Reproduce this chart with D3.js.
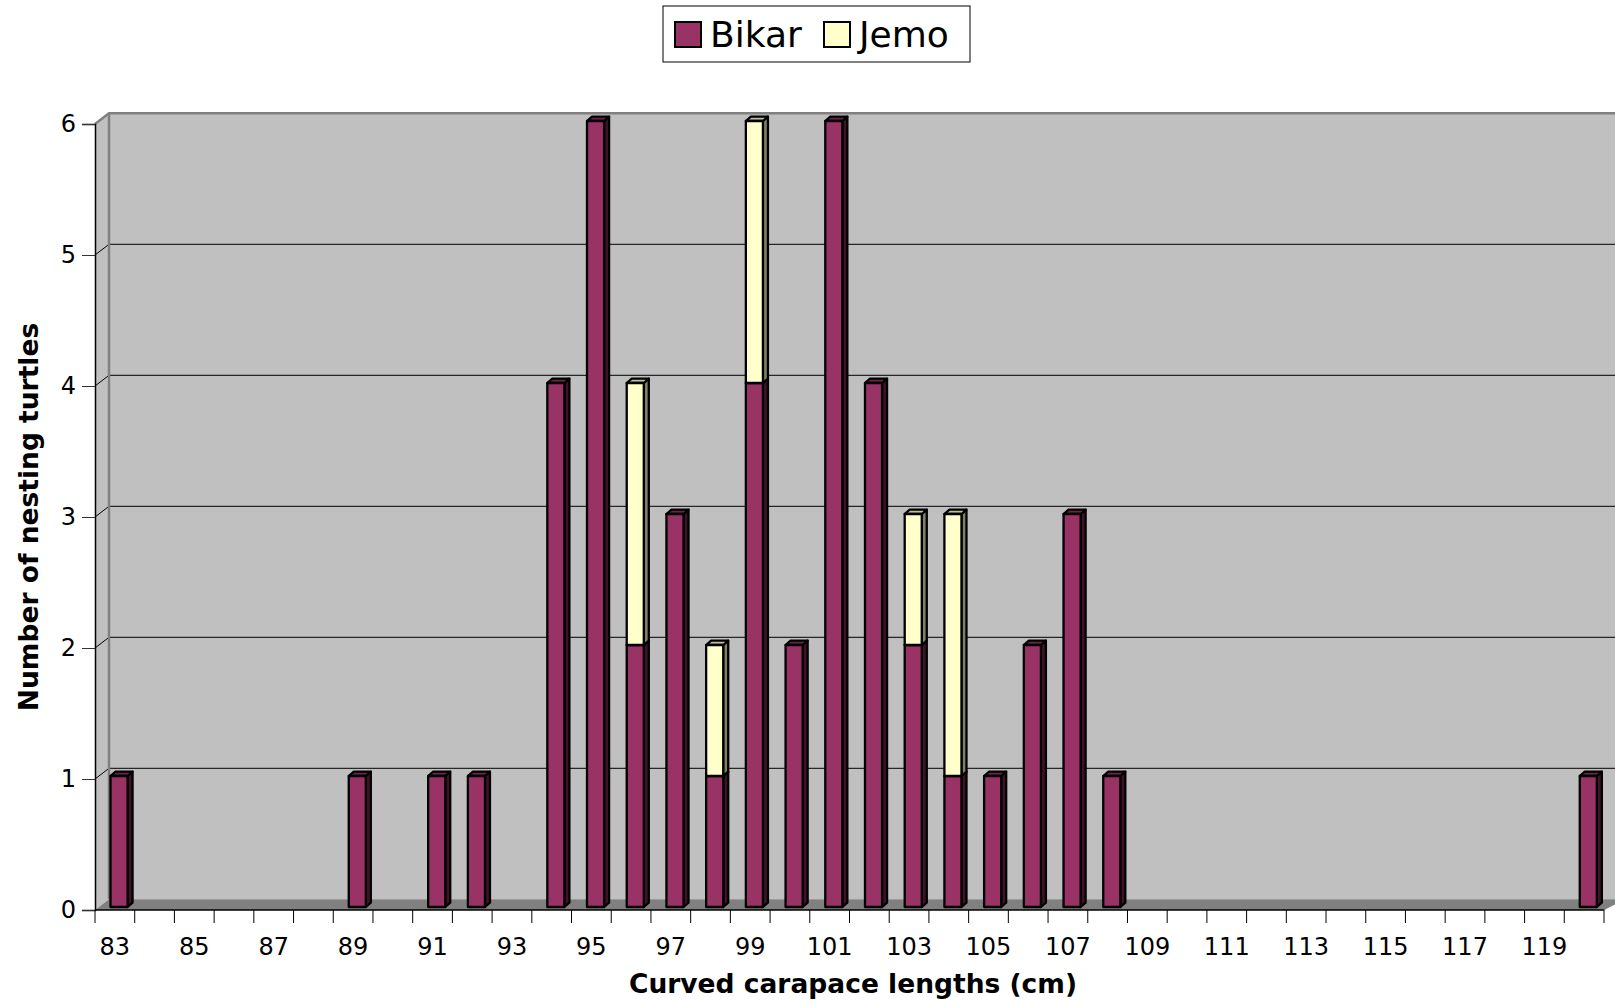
<!DOCTYPE html>
<html>
<head>
<meta charset="utf-8">
<script src="https://cdn.jsdelivr.net/npm/d3@7/dist/d3.min.js"></script>
<style>
  body { margin: 0; background: #fff; }
  svg { display: block; font-family: "DejaVu Sans", Verdana, sans-serif; }
</style>
</head>
<body>
<svg width="1615" height="1005"></svg>
<script>
        // Data
        var categories = [83,84,85,86,87,88,89,90,91,92,93,94,95,96,97,98,99,100,101,
                          102,103,104,105,106,107,108,109,110,111,112,113,114,115,116,117,118,119,120];
        var bikar = [1,0,0,0,0,0,1,0,1,1,0,4,6,2,3,1,4,2,6,
                     4,2,1,1,2,3,1,0,0,0,0,0,0,0,0,0,0,0,1];
        var jemo  = [0,0,0,0,0,0,0,0,0,0,0,0,0,2,0,1,2,0,0,
                     0,1,2,0,0,0,0,0,0,0,0,0,0,0,0,0,0,0,0];
        var xTickLabels = ["83","85","87","89","91","93","95","97","99","101","103",
                           "105","107","109","111","113","115","117","119"];
        var yTicks = [0,1,2,3,4,5,6];
        var seriesNames = ["Bikar", "Jemo"];

        // colours
        var colors = {
            Bikar: {front: "#993366", side: "#3f1229", top: "#6e2449"},
            Jemo:  {front: "#ffffcc", side: "#808066", top: "#bfbf99"}
        };

        // layout (plot edges of the front plane)
        var pL = 95, pR = 1604, pB = 910, pT = 124;
        var wallDx = 14, wallDy = -10.7;   // depth of the back wall
        var barDx = 5, barDy = -4.3;       // depth of each bar
        var barLift = 3;                   // bars stand a little behind the front edge

        var svg = d3.select("svg");

        var xScale = d3.scaleBand()
                       .domain(categories)
                       .range([pL, pR]);

        var yScale = d3.scaleLinear()
                       .domain([0, 6])
                       .range([pB, pT]);

        var bw = xScale.bandwidth();

        function poly(pts) {
            return pts.map(function(p) { return p.join(","); }).join(" ");
        }

        // side wall (left)
        svg.append("polygon")
           .attr("points", poly([[pL, pT], [pL + wallDx, pT + wallDy],
                                 [pL + wallDx, pB + wallDy], [pL, pB]]))
           .attr("fill", "#c0c0c0");

        // back wall
        svg.append("rect")
           .attr("x", pL + wallDx)
           .attr("y", pT + wallDy)
           .attr("width", 1615 - pL - wallDx + 5)
           .attr("height", pB - pT)
           .attr("fill", "#c0c0c0");

        // gridlines on side and back walls
        var grid = svg.append("g");
        grid.selectAll("polyline")
            .data(yTicks.filter(function(d) { return d > 0 && d < 6; }))
            .enter()
            .append("polyline")
            .attr("points", function(d) {
                var y = yScale(d);
                return poly([[pL, y], [pL + wallDx, y + wallDy], [1620, y + wallDy]]);
            })
            .attr("fill", "none")
            .attr("stroke", "#000")
            .attr("stroke-width", 1);

        // wall edges
        svg.append("polyline")
           .attr("points", poly([[pL, pT], [pL + wallDx, pT + wallDy], [1620, pT + wallDy]]))
           .attr("fill", "none")
           .attr("stroke", "#808080")
           .attr("stroke-width", 2.5);
        svg.append("line")
           .attr("x1", pL + wallDx).attr("x2", pL + wallDx)
           .attr("y1", pT + wallDy).attr("y2", pB + wallDy)
           .attr("stroke", "#808080")
           .attr("stroke-width", 2.5);

        // floor
        svg.append("polygon")
           .attr("points", poly([[pL, pB], [pL + wallDx, pB + wallDy],
                                 [1625, pB + wallDy], [pR, pB]]))
           .attr("fill", "#808080");
        svg.append("line")
           .attr("x1", pR).attr("y1", pB)
           .attr("x2", pR + wallDx).attr("y2", pB + wallDy)
           .attr("stroke", "#808080")
           .attr("stroke-width", 1);

        // stacked segments
        var segments = [];
        categories.forEach(function(c, i) {
            var base = 0;
            [bikar[i], jemo[i]].forEach(function(v, s) {
                if (v > 0) {
                    segments.push({cat: c, y0: base, y1: base + v, series: seriesNames[s]});
                }
                base += v;
            });
        });

        var bars = svg.append("g")
                      .selectAll("g")
                      .data(segments)
                      .enter()
                      .append("g")
                      .attr("stroke", "#000")
                      .attr("stroke-width", 2.3)
                      .attr("stroke-linejoin", "round");

        function faceX(d) { return xScale(d.cat) + bw * 0.39; }
        var fw = bw * 0.43;

        // side face
        bars.append("polygon")
            .attr("points", function(d) {
                var x1 = faceX(d) + fw;
                var yb = yScale(d.y0) - barLift, yt = yScale(d.y1) - barLift;
                return poly([[x1, yb], [x1 + barDx, yb + barDy], [x1 + barDx, yt + barDy], [x1, yt]]);
            })
            .attr("fill", function(d) { return colors[d.series].side; });

        // top face
        bars.append("polygon")
            .attr("points", function(d) {
                var x0 = faceX(d), x1 = x0 + fw;
                var yt = yScale(d.y1) - barLift;
                return poly([[x0, yt], [x0 + barDx, yt + barDy], [x1 + barDx, yt + barDy], [x1, yt]]);
            })
            .attr("fill", function(d) { return colors[d.series].top; });

        // front face
        bars.append("rect")
            .attr("x", faceX)
            .attr("y", function(d) { return yScale(d.y1) - barLift; })
            .attr("width", fw)
            .attr("height", function(d) { return yScale(d.y0) - yScale(d.y1); })
            .attr("fill", function(d) { return colors[d.series].front; });

        // Y axis
        var yAxis = d3.axisLeft(yScale)
                      .tickValues(yTicks)
                      .tickSize(13)
                      .tickPadding(6)
                      .tickFormat(d3.format("d"));
        var yAxisG = svg.append("g")
            .attr("transform", "translate(" + pL + ",0)")
            .call(yAxis);
        yAxisG.select(".domain").attr("stroke", "#000").attr("stroke-width", 1.5);
        yAxisG.selectAll(".tick line").attr("stroke", "#333");
        yAxisG.selectAll("text")
              .attr("font-size", "24px")
              .attr("font-family", "DejaVu Sans, sans-serif")
              .attr("fill", "#000");

        // X axis: ticks on every band boundary, labels on every other category
        var boundaries = categories.map(function(c) { return xScale(c); }).concat([pR]);
        svg.append("line")
           .attr("x1", pL).attr("x2", pR)
           .attr("y1", pB).attr("y2", pB)
           .attr("stroke", "#000")
           .attr("stroke-width", 1.5);
        svg.append("g")
           .selectAll("line")
           .data(boundaries)
           .enter()
           .append("line")
           .attr("x1", function(d) { return d; })
           .attr("x2", function(d) { return d; })
           .attr("y1", pB)
           .attr("y2", pB + 13)
           .attr("stroke", "#000")
           .attr("stroke-width", 1);

        svg.append("g")
           .selectAll("text")
           .data(xTickLabels)
           .enter()
           .append("text")
           .attr("x", function(d) { return xScale(+d) + bw / 2; })
           .attr("y", 955)
           .attr("text-anchor", "middle")
           .attr("font-size", "24px")
           .attr("fill", "#000")
           .text(function(d) { return d; });

        // axis titles
        svg.append("text")
           .attr("x", 853)
           .attr("y", 993)
           .attr("text-anchor", "middle")
           .attr("font-size", "26.5px")
           .attr("font-weight", "bold")
           .text("Curved carapace lengths (cm)");

        svg.append("text")
           .attr("transform", "translate(38,517) rotate(-90)")
           .attr("text-anchor", "middle")
           .attr("font-size", "26.5px")
           .attr("font-weight", "bold")
           .text("Number of nesting turtles");

        // legend
        var legend = svg.append("g");
        legend.append("rect")
              .attr("x", 663).attr("y", 6)
              .attr("width", 307).attr("height", 56)
              .attr("fill", "#fff")
              .attr("stroke", "#000")
              .attr("stroke-width", 1);
        var legendX = [675, 824];
        var items = legend.selectAll("g.item")
              .data(seriesNames)
              .enter()
              .append("g")
              .attr("transform", function(d, i) { return "translate(" + legendX[i] + ",22)"; });
        items.append("rect")
             .attr("width", 26).attr("height", 25)
             .attr("fill", function(d) { return colors[d].front; })
             .attr("stroke", "#000")
             .attr("stroke-width", 2);
        items.append("text")
             .attr("x", 35)
             .attr("y", 25)
             .attr("font-size", "36px")
             .attr("fill", "#000")
             .text(function(d) { return d; });
</script>
</body>
</html>
